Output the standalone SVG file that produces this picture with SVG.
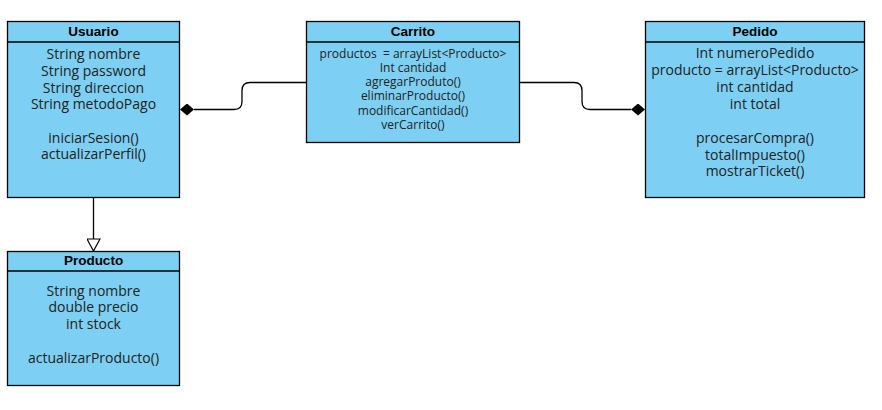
<svg xmlns="http://www.w3.org/2000/svg" width="882" height="410" viewBox="0 0 882 410">
<style>
.box{fill:#7DCFF4;stroke:#000;stroke-width:1.3}
.sep{stroke:#000;stroke-width:1.3}
.hd{font-family:"Liberation Sans",Arial,sans-serif;font-weight:bold;font-size:13.5px;fill:#000;text-anchor:middle}
.tx{font-family:"Open Sans","Noto Sans",sans-serif;font-size:14px;fill:#222;text-anchor:middle}
.sm{font-family:"Open Sans","Noto Sans",sans-serif;font-size:12px;fill:#222;text-anchor:middle}
.ln{fill:none;stroke:#000;stroke-width:1.3}
</style>
<defs>
<marker id="dia" viewBox="0 0 14 12" refX="0" refY="6" markerWidth="14" markerHeight="12" markerUnits="userSpaceOnUse" orient="auto-start-reverse">
<path d="M0,6 L7,0 L14,6 L7,12 Z" fill="#000"/>
</marker>
<marker id="tri" viewBox="0 0 14 14" refX="13" refY="7" markerWidth="14" markerHeight="14" markerUnits="userSpaceOnUse" orient="auto">
<path d="M1,0.5 L13,7 L1,13.5 Z" fill="#fff" stroke="#000" stroke-width="1.2"/>
</marker>
</defs>
<rect width="882" height="410" fill="#fff"/>
<g id="connectors">
<path class="ln" d="M194,109.5 L234,109.5 Q242,109.5 242,101.5 L242,90.5 Q242,82.5 250,82.5 L306,82.5" marker-start="url(#dia)"/>
<path class="ln" d="M520,82.5 L574,82.5 Q582,82.5 582,90.5 L582,101.5 Q582,109.5 590,109.5 L631,109.5" marker-end="url(#dia)"/>
<path class="ln" d="M93.5,198 L93.5,251" marker-end="url(#tri)"/>
</g>
<g id="usuario">
<rect class="box" x="7.5" y="21.5" width="172" height="176"/>
<line class="sep" x1="7.5" y1="42" x2="179.5" y2="42"/>
<text class="hd" x="93.5" y="35.5">Usuario</text>
<text class="tx" x="93.5" y="59.3">String nombre</text>
<text class="tx" x="93.5" y="76">String password</text>
<text class="tx" x="93.5" y="92.7">String direccion</text>
<text class="tx" x="93.5" y="109.3">String metodoPago</text>
<text class="tx" x="93.5" y="142.7">iniciarSesion()</text>
<text class="tx" x="93.5" y="159.3">actualizarPerfil()</text>
</g>
<g id="carrito">
<rect class="box" x="306.5" y="21.5" width="213" height="121"/>
<line class="sep" x1="306.5" y1="42" x2="519.5" y2="42"/>
<text class="hd" x="413" y="35.5">Carrito</text>
<text class="sm" x="413" y="57.6" xml:space="preserve">productos  = arrayList&lt;Producto&gt;</text>
<text class="sm" x="413" y="71.8">Int cantidad</text>
<text class="sm" x="413" y="86.1">agregarProduto()</text>
<text class="sm" x="413" y="100.3">eliminarProducto()</text>
<text class="sm" x="413" y="114.6">modificarCantidad()</text>
<text class="sm" x="413" y="128.9">verCarrito()</text>
</g>
<g id="pedido">
<rect class="box" x="645.5" y="21.5" width="219" height="176"/>
<line class="sep" x1="645.5" y1="42" x2="864.5" y2="42"/>
<text class="hd" x="755" y="35.5">Pedido</text>
<text class="tx" x="755" y="58.3">Int numeroPedido</text>
<text class="tx" x="755" y="75">producto = arrayList&lt;Producto&gt;</text>
<text class="tx" x="755" y="91.7">int cantidad</text>
<text class="tx" x="755" y="108.8">int total</text>
<text class="tx" x="755" y="143">procesarCompra()</text>
<text class="tx" x="755" y="159.6">totalImpuesto()</text>
<text class="tx" x="755" y="176.3">mostrarTicket()</text>
</g>
<g id="producto">
<rect class="box" x="7.5" y="251.5" width="172" height="134"/>
<line class="sep" x1="7.5" y1="271" x2="179.5" y2="271"/>
<text class="hd" x="93.5" y="264.8">Producto</text>
<text class="tx" x="93.5" y="295.7">String nombre</text>
<text class="tx" x="93.5" y="312.3">double precio</text>
<text class="tx" x="93.5" y="329.3">int stock</text>
<text class="tx" x="93.5" y="363.3">actualizarProducto()</text>
</g>
</svg>
